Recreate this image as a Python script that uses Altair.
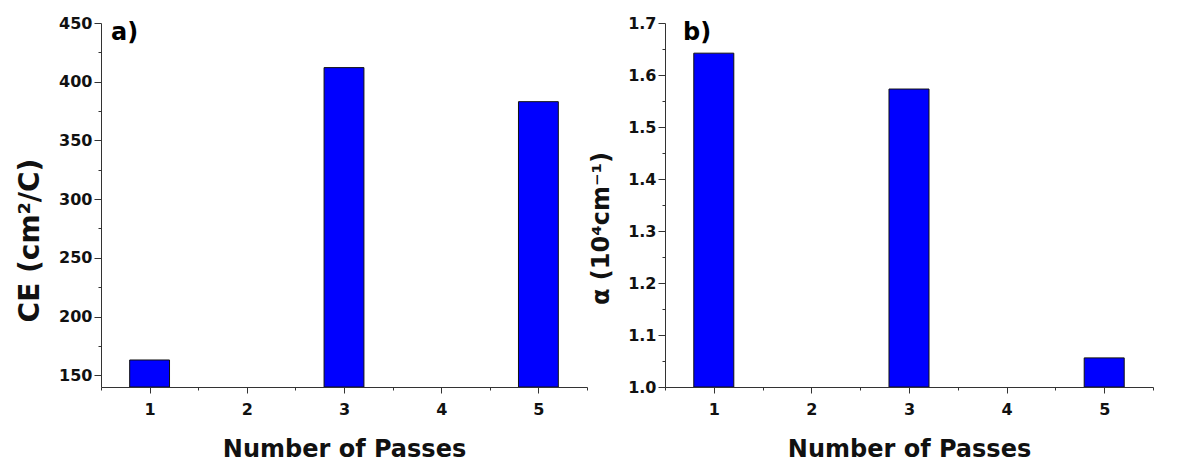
import altair as alt
import pandas as pd

# Number of passes and the two measured quantities
passes = [1, 3, 5]
ce_values = [163, 412, 383]          # CE (cm^2/C)
alpha_values = [1.642, 1.573, 1.056]  # alpha (10^4 cm^-1)

x_major = [1, 2, 3, 4, 5]
x_minor = [0.5, 1.5, 2.5, 3.5, 4.5, 5.5]

ce_major = [150, 200, 250, 300, 350, 400, 450]
ce_minor = [175, 225, 275, 325, 375, 425]
alpha_major = [1.0, 1.1, 1.2, 1.3, 1.4, 1.5, 1.6, 1.7]
alpha_minor = [1.05, 1.15, 1.25, 1.35, 1.45, 1.55, 1.65]

FONT = "DejaVu Sans"
AXIS_COLOR = "#333333"
BAR_HALF = 0.205


def panel(values, y_domain, y_major, y_minor, y_title, y_fmt, tag, tag_x,
          title_size, title_y, width, height):
    df = pd.DataFrame({"Pass": passes, "Value": values})
    base = alt.Chart(df).transform_calculate(
        lo=f"datum.Pass - {BAR_HALF}", hi=f"datum.Pass + {BAR_HALF}"
    )
    xs = alt.Scale(domain=[0.5, 5.5], nice=False, zero=False)
    ys = alt.Scale(domain=y_domain, nice=False, zero=False)

    bars = base.mark_bar(color="#0000FF", stroke="#111111", strokeWidth=1, clip=True).encode(
        x=alt.X("lo:Q", scale=xs, axis=alt.Axis(
            values=x_major, format="d", orient="bottom", tickSize=6, labelPadding=8,
            title="Number of Passes", titlePadding=20, titleFontSize=24,
        )),
        x2="hi:Q",
        y=alt.Y("Value:Q", scale=ys, axis=alt.Axis(
            values=y_major, format=y_fmt, orient="left", tickSize=7, labelPadding=2,
            title=y_title, titlePadding=14, titleFontSize=title_size,
            titleY=title_y,
        )),
        y2=alt.datum(y_domain[0]),
    )

    # invisible copy that carries the minor tick marks
    minor = base.mark_bar(opacity=0).encode(
        x=alt.X("lo:Q", scale=xs, axis=alt.Axis(
            values=x_minor, orient="bottom", labels=False, domain=False,
            tickSize=3, title=None,
        )),
        x2="hi:Q",
        y=alt.Y("Value:Q", scale=ys, axis=alt.Axis(
            values=y_minor, orient="left", labels=False, domain=False,
            tickSize=3, title=None,
        )),
        y2=alt.datum(y_domain[0]),
    )

    label = alt.Chart(alt.Data(values=[{"t": tag}])).mark_text(
        font=FONT, fontWeight="bold", fontSize=24, align="left", baseline="top"
    ).encode(
        text="t:N",
        x=alt.value(tag_x),
        y=alt.value(-2),
    )

    return alt.layer(bars, minor, label).resolve_axis(
        x="independent", y="independent"
    ).properties(width=width, height=height)


left = panel(ce_values, [140, 450], ce_major, ce_minor, "CE (cm²/C)", "d",
             "a)", 10, 28, 217, 486, 364)
right = panel(alpha_values, [1.0, 1.7], alpha_major, alpha_minor, "α (10⁴cm⁻¹)", ".1f",
              "b)", 18, 24, 205, 488, 364)

chart = alt.hconcat(left, right, spacing=1).properties(
    padding={"left": 16, "top": 15, "right": 5, "bottom": 5},
    background="white",
).configure_view(stroke=None).configure_axis(
    domainColor=AXIS_COLOR,
    tickColor=AXIS_COLOR,
    domainWidth=1,
    tickWidth=1,
    labelFont=FONT,
    labelFontWeight="bold",
    labelFontSize=16,
    labelColor="#111111",
    titleFont=FONT,
    titleFontWeight="bold",
    titleColor="#111111",
    grid=False,
)

chart.save("out.html", embed_options={"renderer": "svg", "actions": False})
